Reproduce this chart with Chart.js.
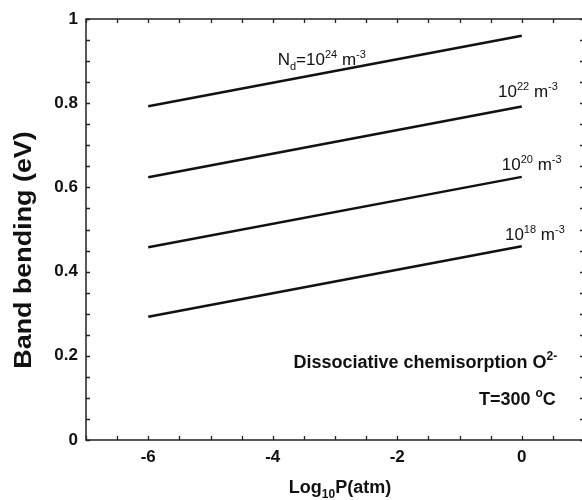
<!DOCTYPE html>
<html>
<head>
<meta charset="utf-8">
<script src="https://cdn.jsdelivr.net/npm/chart.js@4"></script>
<style>
  html, body { margin: 0; padding: 0; background: #fff; overflow: hidden; }
</style>
</head>
<body>
<canvas id="bandChart" width="600" height="500"></canvas>
<script>
// log10 of O2 pressure (atm) at the two ends of each line
const logP = [-6, 0];
// band bending (eV) for each donor density
const bend1e24 = [0.793, 0.960];
const bend1e22 = [0.624, 0.792];
const bend1e20 = [0.458, 0.625];
const bend1e18 = [0.293, 0.460];
const donorExponents = ['24', '22', '20', '18'];
const xTickLabels = [-6, -4, -2, 0];
const yTickLabels = [0, 0.2, 0.4, 0.6, 0.8, 1];

const FONT = '"Liberation Sans", Arial, Helvetica, sans-serif';

const toPoints = ys => logP.map((x, i) => ({ x: x, y: ys[i] }));

// draws text made of pieces, some raised or lowered
function drawRich(ctx, parts, x, y, size, weight, align) {
  const big = `${weight} ${size}px ${FONT}`;
  const small = `${weight} ${Math.round(size * 0.66)}px ${FONT}`;
  let w = 0;
  parts.forEach(([t, k]) => { ctx.font = k ? small : big; w += ctx.measureText(t).width; });
  let cx = align === 'right' ? x - w : align === 'center' ? x - w / 2 : x;
  ctx.textAlign = 'left';
  ctx.textBaseline = 'alphabetic';
  parts.forEach(([t, k]) => {
    ctx.font = k ? small : big;
    const dy = k === 'sup' ? -size * 0.42 : k === 'sub' ? size * 0.3 : 0;
    ctx.fillText(t, cx, y + dy);
    cx += ctx.measureText(t).width;
  });
}

const framePlugin = {
  id: 'frame',
  afterDatasetsDraw(chart) {
    const { ctx, chartArea: a, scales: { x, y } } = chart;
    ctx.save();
    ctx.strokeStyle = '#222';
    ctx.lineWidth = 1.5;
    ctx.strokeRect(a.left, a.top, a.right - a.left, a.bottom - a.top);
    ctx.lineWidth = 1.3;
    ctx.beginPath();
    x.ticks.forEach(t => {
      const px = Math.round(x.getPixelForValue(t.value)) + 0.5;
      ctx.moveTo(px, a.bottom); ctx.lineTo(px, a.bottom - 4);
      ctx.moveTo(px, a.top); ctx.lineTo(px, a.top + 4);
    });
    y.ticks.forEach(t => {
      const py = Math.round(y.getPixelForValue(t.value)) + 0.5;
      ctx.moveTo(a.left, py); ctx.lineTo(a.left + 4, py);
      ctx.moveTo(a.right, py); ctx.lineTo(a.right - 4, py);
    });
    ctx.stroke();
    ctx.restore();
  },
  afterDraw(chart) {
    const { ctx, scales: { x, y } } = chart;
    ctx.save();
    ctx.fillStyle = '#111';

    // axis titles
    drawRich(ctx, [['Log'], ['10', 'sub'], ['P(atm)']], 340, 493, 18, 'bold', 'center');
    ctx.translate(24, 250);
    ctx.rotate(-Math.PI / 2);
    ctx.scale(1.12, 1);
    ctx.font = `bold 24px ${FONT}`;
    ctx.textAlign = 'center';
    ctx.textBaseline = 'middle';
    ctx.fillText('Band bending (eV)', 0, 0);
    ctx.setTransform(1, 0, 0, 1, 0, 0);

    // curve labels
    const px = v => x.getPixelForValue(v);
    const py = v => y.getPixelForValue(v);
    drawRich(ctx, [['N'], ['d', 'sub'], ['=10'], [donorExponents[0], 'sup'], [' m'], ['-3', 'sup']],
      px(-3.92), py(0.891), 17, 'normal', 'left');
    drawRich(ctx, [['10'], [donorExponents[1], 'sup'], [' m'], ['-3', 'sup']], px(-0.38), py(0.815), 17, 'normal', 'left');
    drawRich(ctx, [['10'], [donorExponents[2], 'sup'], [' m'], ['-3', 'sup']], px(-0.32), py(0.641), 17, 'normal', 'left');
    drawRich(ctx, [['10'], [donorExponents[3], 'sup'], [' m'], ['-3', 'sup']], px(-0.27), py(0.475), 17, 'normal', 'left');

    drawRich(ctx, [['Dissociative chemisorption O'], ['2-', 'sup']], px(-1.55), py(0.171), 18, 'bold', 'center');
    drawRich(ctx, [['T=300 '], ['o', 'sup'], ['C']], px(-0.07), py(0.083), 18, 'bold', 'center');
    ctx.restore();
  }
};

const lineStyle = { borderColor: '#111', borderWidth: 2.5, pointRadius: 0, showLine: true, fill: false };

new Chart(document.getElementById('bandChart'), {
  type: 'scatter',
  data: {
    datasets: [
      { label: '1e24', data: toPoints(bend1e24), ...lineStyle },
      { label: '1e22', data: toPoints(bend1e22), ...lineStyle },
      { label: '1e20', data: toPoints(bend1e20), ...lineStyle },
      { label: '1e18', data: toPoints(bend1e18), ...lineStyle }
    ]
  },
  options: {
    responsive: false,
    animation: false,
    devicePixelRatio: 1,
    layout: { padding: { top: 19, right: 16, left: 0, bottom: 0 } },
    plugins: { legend: { display: false }, tooltip: { enabled: false } },
    scales: {
      x: {
        type: 'linear',
        min: -7,
        max: 1,
        grid: { display: false, drawTicks: false },
        border: { display: false },
        afterFit: s => { s.height = 60; },
        ticks: {
          stepSize: 0.5,
          autoSkip: false,
          maxRotation: 0,
          padding: 7,
          color: '#111',
          font: { family: FONT, size: 17, weight: 'bold' },
          callback: v => xTickLabels.includes(v) ? String(v) : ''
        }
      },
      y: {
        min: 0,
        max: 1,
        grid: { display: false, drawTicks: false },
        border: { display: false },
        afterFit: s => { s.width = 86; },
        ticks: {
          stepSize: 0.05,
          autoSkip: false,
          padding: 8,
          color: '#111',
          font: { family: FONT, size: 17, weight: 'bold' },
          callback: v => {
            const r = Math.round(v * 100) / 100;
            return yTickLabels.includes(r) ? String(r) : '';
          }
        }
      }
    }
  },
  plugins: [framePlugin]
});
</script>
</body>
</html>
